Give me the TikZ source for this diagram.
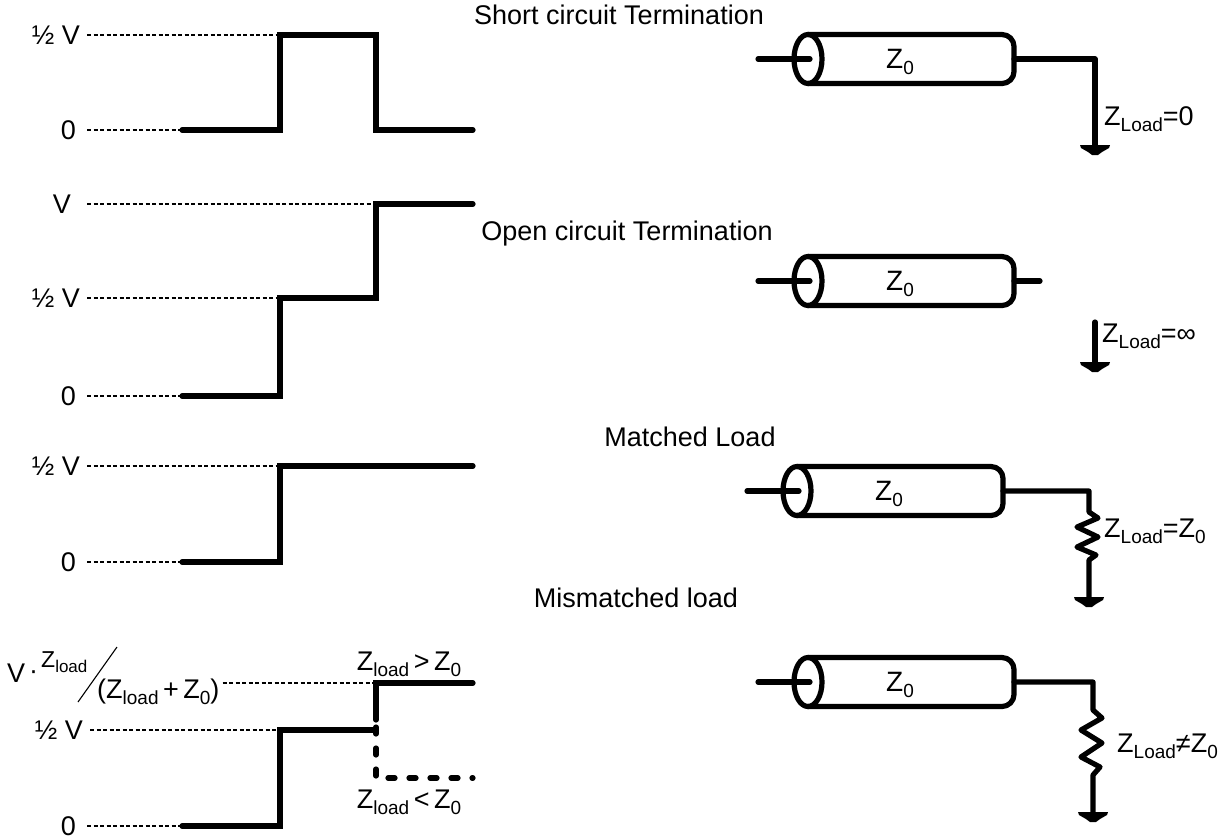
\documentclass[tikz,border=0pt]{standalone}
\usepackage{fontspec}
\setmainfont{Liberation Sans}
\newcommand\sbs[1]{\raisebox{-6pt}{\fontsize{19}{19}\selectfont #1}}
\newcommand\sbss[1]{\raisebox{-5pt}{\fontsize{17}{17}\selectfont #1}}
\tikzset{
  sig/.style={line width=5.2pt, line join=miter, line cap=round},
  sigdash/.style={line width=5.2pt, line cap=round, dash pattern=on 7pt off 14pt},
  guide/.style={line width=1.1pt, dash pattern=on 4pt off 2.5pt},
  wire/.style={line width=5.2pt, line cap=round, line join=round},
  lbl/.style={font=\fontsize{27}{27}\selectfont, inner sep=0pt},
  zlbl/.style={font=\fontsize{28}{28}\selectfont, inner sep=0pt},
  coax/.pic={
    \draw[wire] (-50,0) -- (2,0);
    \draw[wire] (0,0) ellipse [x radius=14pt, y radius=24.5pt];
    \draw[wire, rounded corners=12pt] (0,-24.5) -- (206,-24.5) -- (206,24.5) -- (0,24.5);
    \node[zlbl] (-z) at (92,3) {Z\sbs{0}};
    \coordinate (-out) at (206,0);
  },
  gnd/.pic={
    \fill (-15,0) -- (15,0) -- (14,3) -- (7,7) -- (3,10) -- (-3,10) -- (-7,7) -- (-14,3) -- cycle;
    \coordinate (-top) at (0,1);
  }
}
\begin{document}
\begin{tikzpicture}[x=1pt,y=-1pt]
\useasboundingbox (0,0) rectangle (1226,839);

% ---------- titles ----------
\node[lbl] (t1) at (619,15) {Short circuit Termination};
\node[lbl] (t2) at (627,234) {Open circuit Termination};
\node[lbl] (t3) at (690,437) {Matched Load};
\node[lbl] (t4) at (636,598) {Mismatched load};

% ---------- panel 1 waveform ----------
\coordinate (a0) at (182,130); \coordinate (a1) at (280,130);
\coordinate (a2) at (280,35);  \coordinate (a3) at (376,35);
\coordinate (a4) at (376,130); \coordinate (a5) at (473,130);
\node[lbl,anchor=east] (ah) at (80,35) {½ V};
\node[lbl,anchor=east] (az) at (76,130) {0};
\draw[guide] ([xshift=7pt]ah.east) -- (a2);
\draw[guide] ([xshift=11pt]az.east) -- (a0);
\draw[sig] (a0) -- (a1) -- (a2) -- (a3) -- (a4) -- (a5);

% ---------- panel 2 waveform ----------
\coordinate (b0) at (182,396); \coordinate (b1) at (280,396);
\coordinate (b2) at (280,298); \coordinate (b3) at (376,298);
\coordinate (b4) at (376,204); \coordinate (b5) at (473,204);
\node[lbl,anchor=east] (bv) at (71,204) {V};
\node[lbl,anchor=east] (bh) at (80,298) {½ V};
\node[lbl,anchor=east] (bz) at (76,396) {0};
\draw[guide] ([xshift=16pt]bv.east) -- (b4);
\draw[guide] ([xshift=7pt]bh.east) -- (b2);
\draw[guide] ([xshift=11pt]bz.east) -- (b0);
\draw[sig] (b0) -- (b1) -- (b2) -- (b3) -- (b4) -- (b5);

% ---------- panel 3 waveform ----------
\coordinate (c0) at (182,562); \coordinate (c1) at (280,562);
\coordinate (c2) at (280,466); \coordinate (c3) at (473,466);
\node[lbl,anchor=east] (ch) at (80,466) {½ V};
\node[lbl,anchor=east] (cz) at (76,562) {0};
\draw[guide] ([xshift=7pt]ch.east) -- (c2);
\draw[guide] ([xshift=11pt]cz.east) -- (c0);
\draw[sig] (c0) -- (c1) -- (c2) -- (c3);

% ---------- panel 4 waveform ----------
\coordinate (d0) at (182,826); \coordinate (d1) at (280,826);
\coordinate (d2) at (280,730); \coordinate (d3) at (376,730);
\coordinate (d4) at (376,683); \coordinate (d5) at (473,683);
\coordinate (d6) at (376,778); \coordinate (d7) at (473,778);
\node[lbl,anchor=east] (dh) at (83,730) {½ V};
\node[lbl,anchor=east] (dz) at (76,826) {0};
\node[lbl,anchor=base west] (fv) at (7,682) {V};
\node[lbl,anchor=base west] (fdot) at (29,679) {·};
\node[font=\fontsize{23}{23}\selectfont, inner sep=0pt, anchor=base west] (fnum) at (41,667) {Z\sbss{load}};
\coordinate (s1) at (78,702); \coordinate (s2) at (117,647);
\draw[line width=1.1pt] (s1) -- (s2);
\node[lbl,anchor=base west] (fden) at (97,698) {(Z\sbs{load}\,+\,Z\sbs{0})};
\draw[guide] ([xshift=3pt]fden.east |- d4) -- (d4);
\draw[guide] ([xshift=7pt]dh.east) -- (d2);
\draw[guide] ([xshift=11pt]dz.east) -- (d0);
\draw[sig] (d0) -- (d1) -- (d2) -- (d3);
\draw[sig] ([yshift=10pt]d3) -- (d4) -- (d5);
\draw[sigdash] ([yshift=24pt]d3) -- (d6) -- (d7);
\node[lbl,anchor=base] (gt) at (409,670) {Z\sbs{load}\,>\,Z\sbs{0}};
\node[lbl,anchor=base] (lt) at (409,808) {Z\sbs{load}\,<\,Z\sbs{0}};

% ---------- cable 1 : short circuit ----------
\pic (k1) at (808,59) {coax};
\coordinate (k1c) at (1095,59);
\pic (g1) at (1095,145) {gnd};
\draw[wire] (k1-out) -- (k1c) -- (g1-top);
\node[lbl,anchor=base west] (r1) at (1104,125) {Z\sbs{Load}=0};

% ---------- cable 2 : open circuit ----------
\pic (k2) at (808,281) {coax};
\coordinate (k2e) at (1040,281);
\draw[wire] (k2-out) -- (k2e);
\coordinate (g2s) at (1095,322);
\pic (g2) at (1095,362) {gnd};
\draw[wire] (g2s) -- (g2-top);
\node[lbl,anchor=base west] (r2) at (1102,342) {Z\sbs{Load}=∞};

% ---------- cable 3 : matched ----------
\pic (k3) at (797,491) {coax};
\coordinate (k3c) at (1089,491);
\pic (g3) at (1089,597) {gnd};
\draw[wire] (k3-out) -- (k3c) -- (1089,512) -- (1098,518) -- (1077,527) -- (1098,537) -- (1077,547) -- (1096,555) -- (1089,560) -- (g3-top);
\node[lbl,anchor=base west] (r3) at (1104,537) {Z\sbs{Load}=Z\sbs{0}};

% ---------- cable 4 : mismatched ----------
\pic (k4) at (808,682) {coax};
\coordinate (k4c) at (1093,682);
\pic (g4) at (1093,812) {gnd};
\draw[wire] (k4-out) -- (k4c) -- (1093,710) -- (1102,718) -- (1081,730) -- (1102,743) -- (1081,757) -- (1100,767) -- (1093,775) -- (g4-top);
\node[lbl,anchor=base west] (r4) at (1117,752) {Z\sbs{Load}≠Z\sbs{0}};
\end{tikzpicture}
\end{document}
